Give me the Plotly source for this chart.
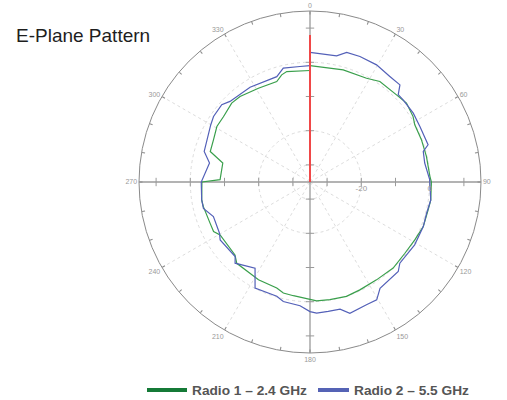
import plotly.graph_objects as go

# ---- data ----
radio1_theta = [0, 16.5, 28.6, 34.8, 44.8, 50.7, 57.6, 61.4, 69.2, 77.6, 87.3, 90, 98.5, 103.3, 111.5,
                118.9, 126.9, 136, 145.8, 155.2, 162.3, 170.4, 176.8, 180, 188.3, 193.5, 197.4, 207.8,
                222, 225.8, 239.5, 242.8, 247.5, 257, 260.6, 270, 271.5, 282.3, 287, 293.6, 300.8,
                307, 315.2, 320.7, 331.2, 341.7, 345.2, 348.1, 360]
radio1_r = [-1.0, -0.8, -0.45, 0.8, 0.9, 1.45, 0.7, -0.1, -0.15, -0.15, 0.1, 0.5, 0.7, 0.5, 0.6,
            0.0, -0.3, 0.0, -0.4, -0.25, 0.1, -0.1, -0.2, -0.7, -1.4, -1.6, -2.5, -2.7,
            -3.0, -4.4, -4.5, -3.3, -3.4, -3.0, -2.9, -3.4, -8.7, -8.9, -4.5, -4.2, -3.3,
            -3.3, -2.5, -2.7, -3.7, -4.05, -2.6, -2.0, -2.4]

radio2_theta = [0, 11.9, 15.8, 21.7, 29.6, 37.1, 42.8, 45.3, 48.6, 56.3, 63.2, 72.5, 74.9, 80.6, 88.9,
                98.5, 105, 111.5, 121, 132.1, 135.4, 146.6, 150.5, 155.3, 163.1, 166.7, 172, 177.1,
                180, 184.6, 192.6, 196.2, 207.4, 212.5, 222.7, 225.1, 237.2, 240.5, 250.3, 256.1,
                260.6, 270, 280.7, 286.1, 300, 304.2, 311.2, 315.2, 327.7, 342.5, 346.8, 355, 360]
radio2_r = [2.9, 2.7, 4.4, 4.5, 4.4, 3.7, 3.7, 1.3, 1.3, 1.3, 1.0, 1.2, -0.7, -1.0, 0.0,
            0.7, 0.3, 0.6, 0.7, 0.4, 1.75, 2.2, 4.6, 4.5, 5.1, 3.2, 3.2, 3.4,
            2.9, 1.3, 0.8, -0.2, -0.1, -5.1, -2.7, -4.1, -3.75, -4.6, -5.0, -2.9,
            -2.9, -3.2, -5.1, -2.8, -1.5, -0.9, -0.7, -1.8, -2.2, -2.7, -0.8, -1.1, -1.0]

marker_theta = [0, 0]
marker_r = [-35, 8]

r_range = [-35, 15]
radial_ticks = [-30, -20, -10, 0, 10]
radial_grid = [-30, -20, 0]
radial_labels = ["", "-20", "0"]
angle_labels = list(range(0, 360, 30))
angle_minor = list(range(0, 360, 10))

names = ["Radio 1 \u2013 2.4 GHz", "Radio 2 \u2013 5.5 GHz"]
GREEN_LINE, GREEN_LEG = "#3a9f4c", "#157a37"
BLUE_LINE, BLUE_LEG = "#5360b8", "#5563b5"
AXIS_GREY = "#9a9a9a"

W, H = 507, 400
CX, CY, R = 310, 182, 171

fig = go.Figure()

# spokes every 30 degrees (dotted grid)
spoke_r, spoke_t = [], []
for a in angle_labels:
    if a % 90 == 0:
        continue
    spoke_r += [r_range[0], r_range[1], None]
    spoke_t += [a, a, None]
fig.add_trace(go.Scatterpolar(r=spoke_r, theta=spoke_t, mode="lines",
                              line=dict(color="#dcdcdc", width=1, dash="dot"),
                              hoverinfo="skip", showlegend=False))

# cross axes through centre
for a, b in [(0, 180), (90, 270)]:
    fig.add_trace(go.Scatterpolar(r=[r_range[1], r_range[0], r_range[1]], theta=[a, a, b],
                                  mode="lines", line=dict(color=AXIS_GREY, width=1.3),
                                  hoverinfo="skip", showlegend=False))
# tick marks on the cross axes
for a, sym in [(0, "line-ew"), (180, "line-ew"), (90, "line-ns"), (270, "line-ns")]:
    fig.add_trace(go.Scatterpolar(r=radial_ticks, theta=[a] * len(radial_ticks), mode="markers",
                                  marker=dict(symbol=sym, size=6, line=dict(color=AXIS_GREY, width=1)),
                                  hoverinfo="skip", showlegend=False))

fig.add_trace(go.Scatterpolar(r=radio1_r, theta=radio1_theta, mode="lines",
                              line=dict(color=GREEN_LINE, width=1.2), showlegend=False, name=names[0]))
fig.add_trace(go.Scatterpolar(r=radio2_r, theta=radio2_theta, mode="lines",
                              line=dict(color=BLUE_LINE, width=1.2), showlegend=False, name=names[1]))
fig.add_trace(go.Scatterpolar(r=marker_r, theta=marker_theta, mode="lines",
                              line=dict(color="#f04848", width=2), showlegend=False))

# legend entries (thick samples), one legend each so they can be spaced like the reference
fig.add_trace(go.Scatterpolar(r=[None], theta=[None], mode="lines", name=names[0],
                              line=dict(color=GREEN_LEG, width=4), legend="legend"))
fig.add_trace(go.Scatterpolar(r=[None], theta=[None], mode="lines", name=names[1],
                              line=dict(color=BLUE_LEG, width=4), legend="legend2"))

leg_font = dict(size=13.7, color="#555555", family="Liberation Sans, Arial, sans-serif", weight="bold")

fig.update_layout(
    width=W, height=H,
    margin=dict(l=0, r=0, t=0, b=0, autoexpand=False),
    paper_bgcolor="white", plot_bgcolor="white",
    font=dict(family="Liberation Sans, Arial, sans-serif"),
    annotations=[dict(text="E-Plane Pattern", xref="paper", yref="paper",
                      x=14 / W, xanchor="left", y=1 - 35 / H, yanchor="middle",
                      showarrow=False, font=dict(size=19, color="#1e1e1e"))],
    polar=dict(
        domain=dict(x=[(CX - R) / W, (CX + R) / W], y=[1 - (CY + R) / H, 1 - (CY - R) / H]),
        bgcolor="white",
        radialaxis=dict(range=r_range, angle=0, tickvals=radial_grid, ticktext=radial_labels,
                        showline=False, ticks="", gridcolor="#dcdcdc", griddash="dot",
                        tickfont=dict(size=8, color="#999999"), tickangle=0),
        angularaxis=dict(rotation=90, direction="clockwise", tickmode="array",
                         tickvals=angle_minor,
                         ticktext=[str(a) if a % 30 == 0 else "" for a in angle_minor],
                         showgrid=False, showline=True, linecolor="#8a8a8a", linewidth=1,
                         ticks="inside", ticklen=3, tickcolor="#8a8a8a",
                         tickfont=dict(size=7, color="#999999")),
    ),
    legend=dict(orientation="h", x=142 / W, xanchor="left", y=1 - 390 / H, yanchor="middle",
                font=leg_font, itemwidth=40, bgcolor="rgba(0,0,0,0)"),
    legend2=dict(orientation="h", x=313 / W, xanchor="left", y=1 - 390 / H, yanchor="middle",
                 font=leg_font, itemwidth=31, bgcolor="rgba(0,0,0,0)"),
)

fig.write_html("out.html", config={"displayModeBar": False},
               post_script="document.body.style.margin='0';")
